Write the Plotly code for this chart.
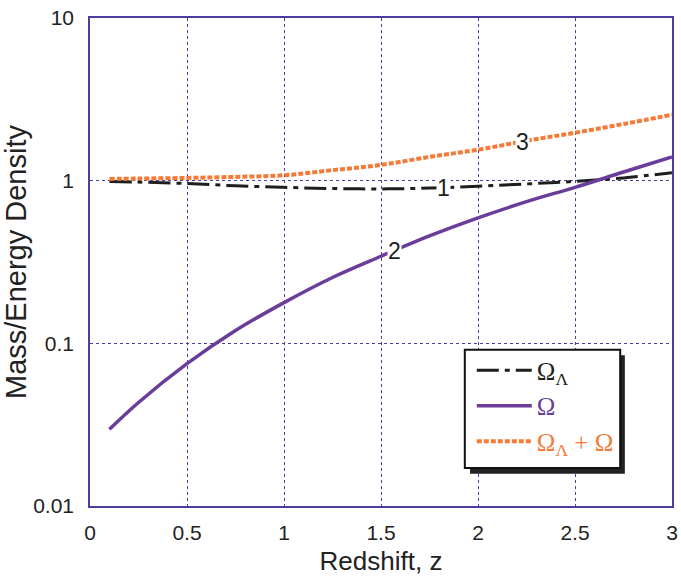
import math
import plotly.graph_objects as go

z = [0.1, 0.25, 0.5, 0.75, 1.0, 1.25, 1.5, 1.75, 2.0, 2.25, 2.5, 2.75, 3.0]
omega_lambda = [0.99, 0.98, 0.96, 0.93, 0.91, 0.895, 0.89, 0.90, 0.925, 0.955, 0.99, 1.04, 1.12]
omega = [0.0296, 0.0433, 0.075, 0.120, 0.178, 0.254, 0.343, 0.457, 0.59, 0.743, 0.91, 1.13, 1.40]
omega_total = [1.025, 1.03, 1.04, 1.055, 1.08, 1.16, 1.25, 1.40, 1.55, 1.76, 1.97, 2.23, 2.54]

x_ticks = [0, 0.5, 1, 1.5, 2, 2.5, 3]
x_tick_labels = ["0", "0.5", "1", "1.5", "2", "2.5", "3"]
y_ticks = [0.01, 0.1, 1, 10]
y_tick_labels = ["0.01", "0.1", "1", "10"]

curve_labels = ["1", "2", "3"]
label_z = [1.82, 1.57, 2.23]
label_val = [0.905, 0.37, 1.74]

BLACK = "#1e1e1e"
PURPLE = "#6a3d9a"
ORANGE = "#f47a38"
GRID = "#4a3fa0"
FONT = "Liberation Sans, Arial, sans-serif"

fig = go.Figure()
fig.add_trace(go.Scatter(
    x=z, y=omega_lambda, mode="lines", line_shape="spline",
    line=dict(color=BLACK, width=3, dash="22px,6px,5px,6px"),
    name="Ω<sub>Λ</sub>"))
fig.add_trace(go.Scatter(
    x=z, y=omega, mode="lines", line_shape="spline",
    line=dict(color=PURPLE, width=3.5),
    name="<span style='color:%s'>Ω</span>" % PURPLE))
fig.add_trace(go.Scatter(
    x=z, y=omega_total, mode="lines", line_shape="spline",
    line=dict(color=ORANGE, width=4, dash="5px,2px"),
    name="<span style='color:%s'>Ω<sub>Λ</sub> + Ω</span>" % ORANGE))

for txt, lx, ly in zip(curve_labels, label_z, label_val):
    fig.add_annotation(x=lx, y=math.log10(ly), text=txt, showarrow=False,
                       bgcolor="white", borderpad=0,
                       font=dict(family=FONT, size=23, color=BLACK))

# legend box with shadow
fig.add_shape(type="rect", xref="paper", yref="paper",
              x0=0.653, x1=0.919, y0=0.066, y1=0.309,
              fillcolor="#222222", line=dict(width=0), layer="above")
fig.add_shape(type="rect", xref="paper", yref="paper",
              x0=0.644, x1=0.911, y0=0.078, y1=0.320,
              fillcolor="white", line=dict(color="#111111", width=2), layer="above")

fig.update_layout(
    width=681, height=576,
    margin=dict(l=90, r=9, t=18, b=70),
    paper_bgcolor="white", plot_bgcolor="white",
    font=dict(family=FONT, size=21, color="#222222"),
    showlegend=True,
    legend=dict(x=0.656, y=0.325, xanchor="left", yanchor="top",
                bgcolor="rgba(0,0,0,0)", borderwidth=0,
                itemwidth=55, tracegroupgap=2,
                font=dict(family="Liberation Serif, Times New Roman, serif", size=25, color=BLACK)),
    xaxis=dict(range=[0, 3], tickvals=x_ticks, ticktext=x_tick_labels,
               showgrid=True, gridcolor=GRID, griddash="dot", gridwidth=1,
               showline=True, linecolor=GRID, linewidth=1.5, mirror=True,
               ticks="outside", ticklen=7, tickcolor="rgba(0,0,0,0)",
               zeroline=False, automargin=False, ticklabeloverflow="allow",
               title=dict(text="Redshift, z", font=dict(family=FONT, size=26), standoff=10),
               tickfont=dict(family=FONT, size=21)),
    yaxis=dict(type="log", range=[-2, 1], tickvals=y_ticks, ticktext=y_tick_labels,
               showgrid=True, gridcolor=GRID, griddash="dot", gridwidth=1,
               showline=True, linecolor=GRID, linewidth=1.5, mirror=True,
               ticks="outside", ticklen=10, tickcolor="rgba(0,0,0,0)",
               zeroline=False, automargin=False, ticklabeloverflow="allow",
               title=dict(text="Mass/Energy Density", font=dict(family=FONT, size=29), standoff=9),
               tickfont=dict(family=FONT, size=21)),
)

fig.write_html("out.html", config={"displayModeBar": False},
               post_script="document.body.style.margin='0px';")
